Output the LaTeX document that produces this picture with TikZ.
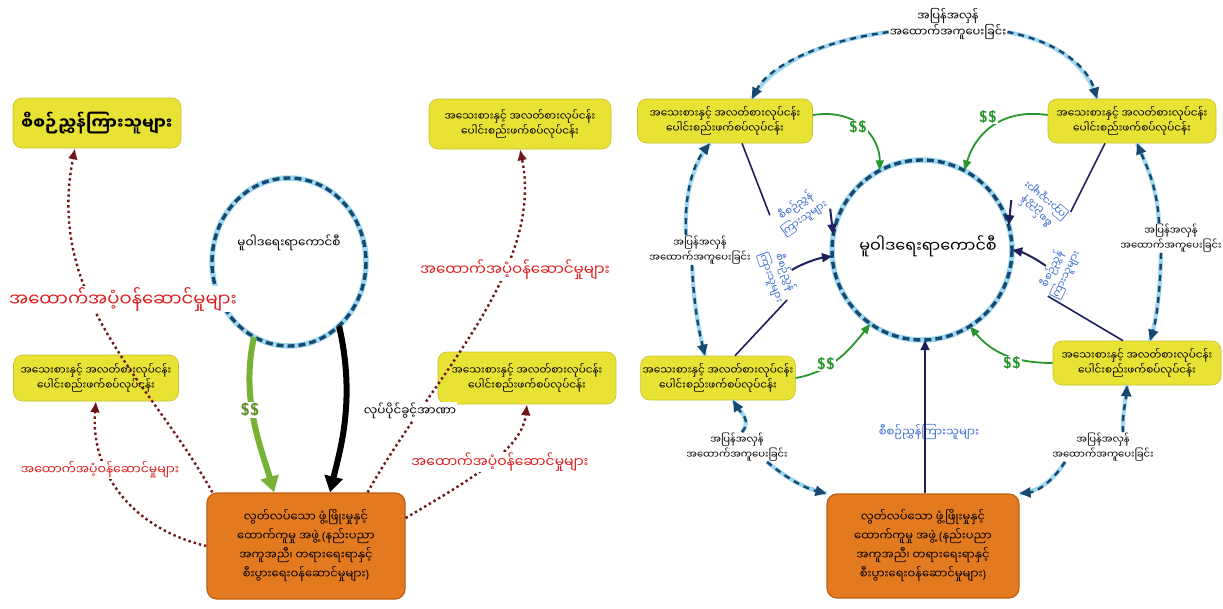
\documentclass[tikz,border=0pt]{standalone}
\usepackage{fontspec}
\newfontfamily\my[Script=Myanmar]{Noto Sans Myanmar UI}
\newfontfamily\lat{Noto Sans}
\usetikzlibrary{arrows.meta,shapes.geometric}
\definecolor{yel}{RGB}{232,226,52}
\definecolor{org}{RGB}{228,122,32}
\definecolor{orgd}{RGB}{190,95,20}
\definecolor{mar}{RGB}{110,22,22}
\definecolor{rlabc}{RGB}{222,30,30}
\definecolor{cdark}{RGB}{22,72,112}
\definecolor{cglow}{RGB}{160,215,240}
\definecolor{grL}{RGB}{118,178,52}
\definecolor{grR}{RGB}{40,150,45}
\definecolor{navy}{RGB}{30,32,92}
\definecolor{blab}{RGB}{60,110,210}
\tikzset{
  ybox/.style={rounded corners=9pt, fill=yel, draw=yel!85!black, line width=0.6pt, align=center, inner sep=2pt, font=\my\fontsize{10.5}{12.5}\selectfont},
  obox/.style={rounded corners=10pt, fill=org, draw=orgd, line width=1.2pt, align=center, inner sep=3pt, font=\my\fontsize{11.5}{19}\selectfont},
  rlab/.style={fill=white, text=rlabc, inner sep=1pt},
  klab/.style={fill=white, text=black, inner sep=1pt, align=center, font=\my\fontsize{10}{12}\selectfont},
  blbl/.style={text=blab, inner sep=0pt, align=center, font=\my\fontsize{10.5}{12}\selectfont},
  mdot/.style={draw=mar, line width=2.4pt, dash pattern=on 2.4pt off 3pt, -{Latex[length=11pt,width=10pt]}},
  glow/.style={draw=cglow, line width=5.5pt},
  cdash/.style={draw=cdark, line width=3.4pt, dash pattern=on 7pt off 4pt},
  ring/.style={draw=cdark, line width=2.4pt, dash pattern=on 6pt off 5pt},
  ringtip/.style={-{Triangle[length=11pt,width=10pt]}},
  rg/.style={draw=cglow, line width=4.2pt},
  gar/.style={draw=grR, line width=1.8pt, -{Triangle[length=10pt,width=8pt]}},
  nav/.style={draw=navy, line width=1.6pt},
  navar/.style={draw=navy, line width=2pt, -{Triangle[length=10pt,width=9pt]}},
  dlab/.style={fill=white, text=grR, inner sep=1pt, font=\sffamily\bfseries\fontsize{16}{16}\selectfont}
}
\begin{document}
\begin{tikzpicture}[x=1pt,y=-1pt]
\useasboundingbox[fill=white] (0,0) rectangle (1223,608);

% ================= LEFT PANEL =================
\node[ellipse, minimum width=154pt, minimum height=168pt, inner sep=0pt] (cl) at (289,262) {};
\draw[glow] (cl.center) ellipse [x radius=77, y radius=84];
\draw[cdash] (cl.center) ellipse [x radius=77, y radius=84];
\node[font=\my\fontsize{12}{14}\selectfont] (clt) at (289,243) {မူဝါဒရေးရာကောင်စီ};

\node[ybox, minimum width=168pt, minimum height=50pt, font=\my\bfseries\fontsize{16.5}{18}\selectfont] (pl) at (97,123) {စီစဉ်ညွှန်ကြားသူများ};
\node[ybox, minimum width=165pt, minimum height=46pt] (lm) at (96,378) {အသေးစားနှင့် အလတ်စားလုပ်ငန်း\\ပေါင်းစည်းဖက်စပ်လုပ်ငန်း};
\node[ybox, minimum width=182pt, minimum height=50pt] (rt) at (520,124) {အသေးစားနှင့် အလတ်စားလုပ်ငန်း\\ပေါင်းစည်းဖက်စပ်လုပ်ငန်း};
\node[ybox, minimum width=178pt, minimum height=52pt] (rm) at (527,378) {အသေးစားနှင့် အလတ်စားလုပ်ငန်း\\ပေါင်းစည်းဖက်စပ်လုပ်ငန်း};
\node[obox, minimum width=198pt, minimum height=106pt] (ol) at (306,546) {လွတ်လပ်သော ဖွံ့ဖြိုးမှုနှင့်\\ထောက်ကူမှု အဖွဲ့ {\lat(}နည်းပညာ\\အကူအညီ၊ တရားရေးရာနှင့်\\စီးပွားရေးဝန်ဆောင်မှုများ{\lat)}};

% dotted support arrows
\draw[mdot] (ol.north west) ++(6,0) .. controls (150,380) and (45,300) .. (pl.south -| 75,0);
\draw[mdot] (ol.west) .. controls (130,528) and (90,470) .. (lm.south);
\draw[mdot] (ol.north east) ++(-38,0) .. controls (430,380) and (545,270) .. (rt.south);
\draw[mdot] (ol.east) ++(0,-28) .. controls (470,480) and (522,450) .. (rm.south);

\node[rlab, font=\my\fontsize{18}{20}\selectfont] (r1) at (123,299) {အထောက်အပံ့ဝန်ဆောင်မှုများ};
\node[rlab, font=\my\fontsize{12.5}{15}\selectfont] (r2) at (100,470) {အထောက်အပံ့ဝန်ဆောင်မှုများ};
\node[rlab, font=\my\fontsize{15}{17}\selectfont] (r3) at (515,270) {အထောက်အပံ့ဝန်ဆောင်မှုများ};
\node[rlab, font=\my\fontsize{14}{16}\selectfont] (r4) at (500,462) {အထောက်အပံ့ဝန်ဆောင်မှုများ};

% green and black thick arrows
\draw[draw=grL, line width=6pt, -{Triangle[length=16pt,width=18pt]}] (cl.-115) .. controls (240,400) and (262,450) .. (ol.north -| 274,0);
\node[fill=white, text=grL!80!black, inner sep=1pt, font=\sffamily\bfseries\fontsize{17}{17}\selectfont] (dl) at (250,410) {\$\$};
\draw[draw=black, line width=6pt, -{Triangle[length=16pt,width=18pt]}] (cl.-52) .. controls (356,400) and (340,450) .. (ol.north -| 330,0);
\node[klab, font=\my\fontsize{12}{14}\selectfont] (auth) at (410,411) {လုပ်ပိုင်ခွင့်အာဏာ};

% ================= RIGHT PANEL =================
\node[circle, minimum size=180pt, inner sep=0pt] (cr) at (922,250) {};
\draw[glow] (cr.center) circle [radius=90];
\draw[cdash] (cr.center) circle [radius=90];
\node[font=\my\fontsize{16}{18}\selectfont] (crt) at (928,246) {မူဝါဒရေးရာကောင်စီ};

\node[ybox, minimum width=175pt, minimum height=44pt] (tl) at (725,121) {အသေးစားနှင့် အလတ်စားလုပ်ငန်း\\ပေါင်းစည်းဖက်စပ်လုပ်ငန်း};
\node[ybox, minimum width=168pt, minimum height=44pt] (tr) at (1132,121) {အသေးစားနှင့် အလတ်စားလုပ်ငန်း\\ပေါင်းစည်းဖက်စပ်လုပ်ငန်း};
\node[ybox, minimum width=152pt, minimum height=44pt] (bl) at (718,378) {အသေးစားနှင့် အလတ်စားလုပ်ငန်း\\ပေါင်းစည်းဖက်စပ်လုပ်ငန်း};
\node[ybox, minimum width=168pt, minimum height=44pt] (br) at (1137,363) {အသေးစားနှင့် အလတ်စားလုပ်ငန်း\\ပေါင်းစည်းဖက်စပ်လုပ်ငန်း};
\node[obox, minimum width=192pt, minimum height=104pt] (or) at (923,546) {လွတ်လပ်သော ဖွံ့ဖြိုးမှုနှင့်\\ထောက်ကူမှု အဖွဲ့ {\lat(}နည်းပညာ\\အကူအညီ၊ တရားရေးရာနှင့်\\စီးပွားရေးဝန်ဆောင်မှုများ{\lat)}};

% outer ring labels
\node[klab, font=\my\fontsize{11.5}{13}\selectfont] (kt) at (948,24) {အပြန်အလှန်\\အထောက်အကူပေးခြင်း};
\node[klab] (kl) at (700,250) {အပြန်အလှန်\\အထောက်အကူပေးခြင်း};
\node[klab] (kr) at (1171,238) {အပြန်အလှန်\\အထောက်အကူပေးခြင်း};
\node[klab] (kbl) at (737,447) {အပြန်အလှန်\\အထောက်အကူပေးခြင်း};
\node[klab] (kbr) at (1103,447) {အပြန်အလှန်\\အထောက်အကူပေးခြင်း};

% outer ring arcs (glow then dashes)
\draw[rg] (kt.west) ++(0,8) .. controls (815,42) and (768,68) .. (tl.north -| 752,0);
\draw[ring, ringtip] (kt.west) ++(0,8) .. controls (815,42) and (768,68) .. (tl.north -| 752,0);
\draw[rg] (kt.east) ++(0,8) .. controls (1060,42) and (1088,68) .. (tr.north -| 1097,0);
\draw[ring, ringtip] (kt.east) ++(0,8) .. controls (1060,42) and (1088,68) .. (tr.north -| 1097,0);

\draw[rg] (kl.north) ++(-14,0) .. controls (684,190) and (695,162) .. (tl.south -| 710,0);
\draw[ring, ringtip] (kl.north) ++(-14,0) .. controls (684,190) and (695,162) .. (tl.south -| 710,0);
\draw[rg] (kl.south) ++(-8,0) .. controls (694,310) and (700,335) .. (bl.north -| 705,0);
\draw[ring, ringtip] (kl.south) ++(-8,0) .. controls (694,310) and (700,335) .. (bl.north -| 705,0);

\draw[rg] (kr.north) ++(-12,0) .. controls (1157,185) and (1146,165) .. (tr.south -| 1137,0);
\draw[ring, ringtip] (kr.north) ++(-12,0) .. controls (1157,185) and (1146,165) .. (tr.south -| 1137,0);
\draw[rg] (kr.south) ++(-10,0) .. controls (1160,300) and (1155,325) .. (br.north -| 1150,0);
\draw[ring, ringtip] (kr.south) ++(-10,0) .. controls (1160,300) and (1155,325) .. (br.north -| 1150,0);

\draw[rg] (kbl.north) ++(5,0) .. controls (752,420) and (740,412) .. (bl.south -| 733,0);
\draw[ring, ringtip] (kbl.north) ++(5,0) .. controls (752,420) and (740,412) .. (bl.south -| 733,0);
\draw[rg] (kbl.south) ++(30,0) .. controls (795,485) and (812,490) .. (or.north west);
\draw[ring, ringtip] (kbl.south) ++(30,0) .. controls (795,485) and (812,490) .. (or.north west);

\draw[rg] (kbr.north) ++(20,0) .. controls (1122,415) and (1126,400) .. (br.south -| 1127,0);
\draw[ring, ringtip] (kbr.north) ++(20,0) .. controls (1122,415) and (1126,400) .. (br.south -| 1127,0);
\draw[rg] (kbr.south) ++(-38,0) .. controls (1050,485) and (1035,492) .. (or.north east);
\draw[ring, ringtip] (kbr.south) ++(-38,0) .. controls (1050,485) and (1035,492) .. (or.north east);

% green $$ arrows
\draw[gar] (tl.east) ++(0,-6) .. controls (860,108) and (880,140) .. (cr.118);
\node[dlab] (d1) at (858,127) {\$\$};
\draw[gar] (tr.west) ++(0,-6) .. controls (1000,108) and (975,135) .. (cr.62);
\node[dlab] (d2) at (988,117) {\$\$};
\draw[gar] (bl.east) .. controls (830,372) and (848,352) .. (cr.235);
\node[dlab] (d3) at (826,364) {\$\$};
\draw[gar] (br.west) .. controls (1010,363) and (990,350) .. (cr.302);
\node[dlab] (d4) at (1012,363) {\$\$};

% navy arrows with blue labels
\node[blbl, rotate=35] (b1) at (800,212) {စီစဉ်ညွှန်\\ကြားသူများ};
\draw[nav] (tl.south -| 742,0) -- (b1.north west);
\draw[navar] (b1.south east) -- (cr.170);

\node[blbl, rotate=-70] (b2) at (778,275) {စီစဉ်ညွှန်\\ကြားသူများ};
\draw[nav] (bl.north -| 735,0) -- (b2.east);
\draw[navar] (b2.north) .. controls (805,262) and (820,258) .. (cr.184);

\node[blbl, rotate=140] (b3) at (1041,206) {စီစဉ်ညွှန်\\ကြားသူများ};
\draw[nav] (tr.south -| 1105,0) -- (b3.south west);
\draw[navar] (b3.north east) -- (cr.16);

\node[blbl, rotate=65] (b4) at (1059,272) {စီစဉ်ညွှန်\\ကြားသူများ};
\draw[nav] (br.north -| 1123,0) -- (b4.west);
\draw[navar] (b4.north) .. controls (1035,258) and (1022,252) .. (cr.0);

\node[blbl, font=\my\fontsize{11.5}{13}\selectfont] (b5) at (929,432) {စီစဉ်ညွှန်ကြားသူများ};
\draw[navar] (or.north -| 925,0) -- (cr.south -| 925,0);

\end{tikzpicture}
\end{document}
